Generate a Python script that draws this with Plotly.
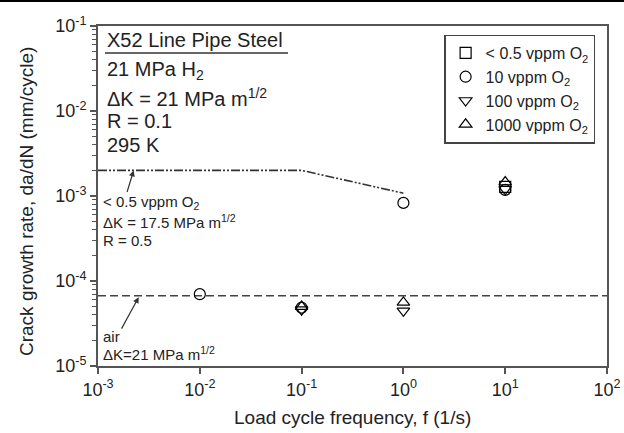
import plotly.graph_objects as go

# ---- data ----
series_names = ["< 0.5 vppm O<sub>2</sub>", "10 vppm O<sub>2</sub>",
                "100 vppm O<sub>2</sub>", "1000 vppm O<sub>2</sub>"]
series_symbols = ["square-open", "circle-open", "triangle-down-open", "triangle-up-open"]
f_sq = [10]
y_sq = [1.28e-3]
f_circ = [0.01, 0.1, 1, 10]
y_circ = [7.0e-5, 4.85e-5, 8.3e-4, 1.18e-3]
f_down = [0.1, 1, 10]
y_down = [4.6e-5, 4.45e-5, 1.2e-3]
f_up = [0.1, 1, 10]
y_up = [5.0e-5, 5.6e-5, 1.46e-3]

f_low_o2 = [0.001, 0.1, 1]
y_low_o2 = [2.0e-3, 2.0e-3, 1.08e-3]
f_air = [0.001, 100]
y_air = [6.7e-5, 6.7e-5]

x_tickvals = [1e-3, 1e-2, 1e-1, 1e0, 1e1, 1e2]
x_ticktext = ["10<sup>-3</sup>", "10<sup>-2</sup>", "10<sup>-1</sup>",
              "10<sup>0</sup>", "10<sup>1</sup>", "10<sup>2</sup>"]
y_tickvals = [1e-5, 1e-4, 1e-3, 1e-2, 1e-1]
y_ticktext = ["10<sup>-5</sup>", "10<sup>-4</sup>", "10<sup>-3</sup>",
              "10<sup>-2</sup>", "10<sup>-1</sup>"]
y_minor = [m * 10.0 ** e for e in range(-5, -1) for m in range(2, 10)]

FONT = "Liberation Sans, Arial, sans-serif"
TXT = "#222222"
AX = "#555555"

L, R, T, B = 98, 607, 26, 366
PW, PH = R - L, B - T


def px(xp):
    return (xp - L) / PW


def py(yp):
    return 1 - (yp - T) / PH


fig = go.Figure()

fig.add_trace(go.Scatter(x=f_low_o2, y=y_low_o2, mode="lines", showlegend=False,
                         line=dict(color="#333333", width=1.6,
                                   dash="9px,2px,2px,2px,2px,2px")))
fig.add_trace(go.Scatter(x=f_air, y=y_air, mode="lines", showlegend=False,
                         line=dict(color="#444444", width=1.6, dash="8px,4px")))

for name, sym, xs, ys in zip(series_names, series_symbols,
                             [f_sq, f_circ, f_down, f_up],
                             [y_sq, y_circ, y_down, y_up]):
    fig.add_trace(go.Scatter(x=xs, y=ys, mode="markers", name=name,
                             marker=dict(symbol=sym, size=11, color="black",
                                         line=dict(color="black", width=1.2))))

fig.update_layout(
    width=624, height=433,
    margin=dict(l=L, r=624 - R, t=T, b=433 - B, autoexpand=False),
    paper_bgcolor="white", plot_bgcolor="white",
    font=dict(family=FONT, color=TXT, size=16),
    legend=dict(x=0.68, y=0.975, xanchor="left", yanchor="top",
                bordercolor="#444444", borderwidth=1.5, bgcolor="white",
                font=dict(size=16, family=FONT, color=TXT),
                itemwidth=30, tracegroupgap=0),
)

fig.update_xaxes(type="log", range=[-3, 2], tickvals=x_tickvals, ticktext=x_ticktext,
                 ticks="outside", ticklen=6, tickwidth=1.5, tickcolor=AX,
                 showline=True, linecolor=AX, linewidth=2, mirror=True,
                 showgrid=False, zeroline=False, automargin=False,
                 tickfont=dict(size=18, family=FONT, color=TXT))
fig.update_yaxes(type="log", range=[-5, -1], tickvals=y_tickvals, ticktext=y_ticktext,
                 ticks="outside", ticklen=6, tickwidth=1.5, tickcolor=AX,
                 minor=dict(tickvals=y_minor, ticks="outside", ticklen=4, tickwidth=1,
                            tickcolor=AX, showgrid=False),
                 showline=True, linecolor=AX, linewidth=2, mirror=True,
                 showgrid=False, zeroline=False, automargin=False,
                 tickfont=dict(size=18, family=FONT, color=TXT))

# axis titles
fig.add_annotation(text="Load cycle frequency, f (1/s)", xref="paper", yref="paper",
                   x=px(352), y=py(418), xanchor="center", yanchor="middle",
                   showarrow=False, font=dict(size=19, family=FONT, color=TXT))
fig.add_annotation(text="Crack growth rate, da/dN (mm/cycle)", xref="paper", yref="paper",
                   x=px(26), y=py(202), xanchor="center", yanchor="middle", textangle=-90,
                   showarrow=False, font=dict(size=19, family=FONT, color=TXT))

# top border line of the figure
fig.add_shape(type="line", xref="paper", yref="paper", x0=px(-5), x1=px(630),
              y0=py(1), y1=py(1), line=dict(color="black", width=2))

# info block
info_lines = ["X52 Line Pipe Steel", "21 MPa H<sub>2</sub>",
              "ΔK = 21 MPa m<sup>1/2</sup>", "R = 0.1", "295 K"]
info_y = [40, 70, 97, 121, 145]
for t, yp in zip(info_lines, info_y):
    fig.add_annotation(text=t, xref="paper", yref="paper",
                       x=px(105), y=py(yp),
                       xanchor="left", yanchor="middle", showarrow=False,
                       font=dict(size=20, family=FONT, color=TXT))
fig.add_shape(type="line", xref="paper", yref="paper",
              x0=px(105), x1=px(288), y0=py(53), y1=py(53),
              line=dict(color="#333333", width=1.5))

# low O2 annotation
low_lines = ["< 0.5 vppm O<sub>2</sub>", "ΔK = 17.5 MPa m<sup>1/2</sup>", "R = 0.5"]
low_y = [202, 222, 240]
for t, yp in zip(low_lines, low_y):
    fig.add_annotation(text=t, xref="paper", yref="paper",
                       x=px(101), y=py(yp),
                       xanchor="left", yanchor="middle", showarrow=False,
                       font=dict(size=15, family=FONT, color=TXT))
fig.add_annotation(x=-2.65, y=-2.70, xref="x", yref="y", ax=-7, ay=23,
                   text="", showarrow=True,
                   arrowhead=2, arrowsize=1, arrowwidth=1.2, arrowcolor="#333333")

# air annotation
air_lines = ["air", "ΔK=21 MPa m<sup>1/2</sup>"]
air_y = [336, 353]
for t, yp in zip(air_lines, air_y):
    fig.add_annotation(text=t, xref="paper", yref="paper",
                       x=px(101), y=py(yp),
                       xanchor="left", yanchor="middle", showarrow=False,
                       font=dict(size=15, family=FONT, color=TXT))
fig.add_annotation(x=-2.60, y=-4.19, xref="x", yref="y", ax=-18, ay=33,
                   text="", showarrow=True,
                   arrowhead=2, arrowsize=1, arrowwidth=1.2, arrowcolor="#333333")

fig.write_html("out.html")
